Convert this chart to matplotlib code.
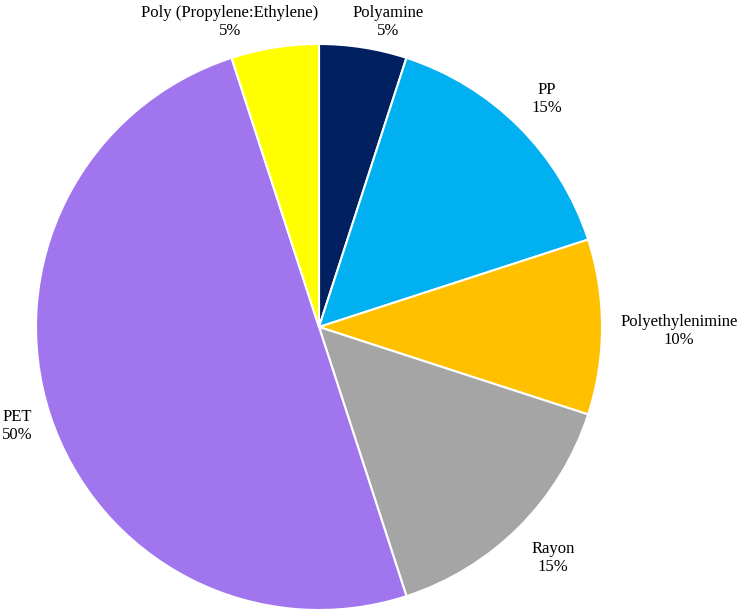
import matplotlib
matplotlib.use("Agg")
import matplotlib.pyplot as plt

categories = ["Polyamine", "PP", "Polyethylenimine", "Rayon", "PET", "Poly (Propylene:Ethylene)"]
values = [5, 15, 10, 15, 50, 5]
colors = ["#002060", "#00B0F0", "#FFC000", "#A5A5A5", "#A175EE", "#FFFF00"]

# label anchor positions in pixel coords (x, y from top), layout only
label_pos = [(388, 22), (547, 99), (679, 331), (553, 558), (2, 426), (230, 22)]
label_ha = ["center", "center", "center", "center", "left", "center"]

W, H = 738, 613
fig = plt.figure(figsize=(W / 100, H / 100), dpi=100)
ax = fig.add_axes([0, 0, 1, 1])

cx, cy, r = 319, H - 327, 283
ax.pie(values, colors=colors, startangle=90, counterclock=False,
       center=(cx, cy), radius=r, frame=True,
       wedgeprops=dict(edgecolor="white", linewidth=1.5))
ax.set_xlim(0, W)
ax.set_ylim(0, H)
ax.set_aspect("equal")
ax.axis("off")

for name, v, (px, py), ha in zip(categories, values, label_pos, label_ha):
    ax.text(px, H - py, f"{name}\n{v}%", ha=ha, va="center",
            fontsize=12, family="Liberation Serif", color="black",
            multialignment="center", linespacing=1.15)

fig.savefig("out.png", dpi=100)
